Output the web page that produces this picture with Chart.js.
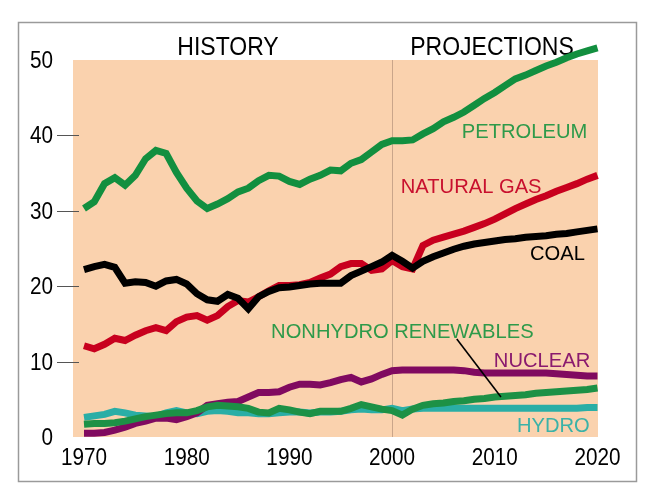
<!DOCTYPE html>
<html>
<head>
<meta charset="utf-8">
<script src="https://cdn.jsdelivr.net/npm/chart.js@4/dist/chart.umd.min.js"></script>
<style>
  html, body { margin: 0; padding: 0; background: #fff; }
  canvas { display: block; }
</style>
</head>
<body>
<canvas id="energy" width="646" height="501"></canvas>
<script>
// U.S. energy consumption by fuel, history and projections (quadrillion Btu)
const years = [
  1970, 1971, 1972, 1973, 1974, 1975, 1976, 1977, 1978, 1979,
  1980, 1981, 1982, 1983, 1984, 1985, 1986, 1987, 1988, 1989,
  1990, 1991, 1992, 1993, 1994, 1995, 1996, 1997, 1998, 1999,
  2000, 2001, 2002, 2003, 2004, 2005, 2006, 2007, 2008, 2009,
  2010, 2011, 2012, 2013, 2014, 2015, 2016, 2017, 2018, 2019, 2020
];

const petroleum = [
  30.3, 31.2, 33.6, 34.4, 33.4, 34.7, 36.9, 38.0, 37.6, 35.1,
  33.0, 31.3, 30.3, 30.9, 31.6, 32.5, 33.0, 34.0, 34.7, 34.6,
  33.9, 33.5, 34.2, 34.7, 35.4, 35.3, 36.3, 36.8, 37.8, 38.8,
  39.3, 39.3, 39.4, 40.2, 40.9, 41.8, 42.4, 43.1, 44.0, 44.9,
  45.7, 46.6, 47.5, 48.0, 48.6, 49.2, 49.7, 50.3, 50.8, 51.2, 51.6
];

const naturalGas = [
  12.1, 11.7, 12.3, 13.1, 12.8, 13.5, 14.1, 14.5, 14.1, 15.3,
  15.9, 16.1, 15.5, 16.1, 17.3, 18.1, 17.9, 18.6, 19.4, 20.1,
  20.1, 20.2, 20.5, 21.1, 21.6, 22.6, 23.0, 23.0, 22.1, 22.3,
  23.4, 22.6, 22.3, 25.4, 26.1, 26.5, 26.9, 27.3, 27.8, 28.3,
  28.9, 29.6, 30.3, 30.9, 31.5, 32.0, 32.6, 33.1, 33.6, 34.2, 34.7
];

const coal = [
  22.2, 22.6, 22.9, 22.5, 20.4, 20.6, 20.5, 20.0, 20.7, 20.9,
  20.3, 19.0, 18.2, 18.0, 18.9, 18.4, 17.0, 18.6, 19.3, 19.8,
  19.9, 20.1, 20.3, 20.4, 20.4, 20.4, 21.4, 22.0, 22.6, 23.2,
  24.1, 23.3, 22.4, 23.3, 23.9, 24.4, 24.9, 25.3, 25.6, 25.8,
  26.0, 26.2, 26.3, 26.5, 26.6, 26.7, 26.9, 27.0, 27.2, 27.4, 27.6
];

const nuclear = [
  0.5, 0.5, 0.6, 0.9, 1.3, 1.8, 2.1, 2.5, 2.5, 2.3,
  2.7, 3.2, 4.2, 4.4, 4.6, 4.7, 5.3, 5.9, 5.9, 6.0,
  6.6, 7.0, 7.0, 6.9, 7.2, 7.6, 7.9, 7.3, 7.7, 8.3,
  8.8, 8.9, 8.9, 8.9, 8.9, 8.9, 8.9, 8.8, 8.6, 8.5,
  8.5, 8.5, 8.5, 8.5, 8.5, 8.5, 8.4, 8.3, 8.2, 8.1, 8.1
];

const renewables = [
  1.7, 1.8, 1.8, 1.9, 2.1, 2.4, 2.7, 2.9, 3.1, 3.2,
  3.2, 3.5, 4.0, 4.2, 4.1, 4.0, 3.8, 3.3, 3.2, 3.8,
  3.6, 3.3, 3.1, 3.4, 3.4, 3.4, 3.8, 4.3, 4.0, 3.7,
  3.5, 2.9, 3.7, 4.2, 4.4, 4.5, 4.7, 4.8, 5.0, 5.1,
  5.3, 5.4, 5.5, 5.6, 5.8, 5.9, 6.0, 6.1, 6.2, 6.3, 6.5
];

const hydro = [
  2.6, 2.8, 3.0, 3.4, 3.2, 2.9, 2.8, 2.7, 3.2, 3.5,
  3.2, 3.1, 3.4, 3.5, 3.4, 3.2, 3.2, 3.1, 3.1, 3.2,
  3.3, 3.3, 3.2, 3.3, 3.3, 3.4, 3.6, 3.7, 3.6, 3.6,
  3.8, 3.5, 3.7, 3.8, 3.8, 3.8, 3.8, 3.8, 3.8, 3.8,
  3.8, 3.8, 3.8, 3.8, 3.8, 3.8, 3.8, 3.8, 3.8, 3.9, 3.9
];

const xTicks = [1970, 1980, 1990, 2000, 2010, 2020];
const yTicks = [0, 10, 20, 30, 40, 50];
const splitYear = 2000;

const FONT = "'Liberation Sans', Arial, sans-serif";

// series labels placed in data units (year, value)
const seriesLabels = [
  { text: 'PETROLEUM', x: 2012.9, y: 40.7, color: '#2e9a4a' },
  { text: 'NATURAL GAS', x: 2007.7, y: 33.3, color: '#c8102e' },
  { text: 'COAL', x: 2016.1, y: 24.5, color: '#000000' },
  { text: 'NONHYDRO RENEWABLES', x: 2001.0, y: 14.1, color: '#2e9a4a' },
  { text: 'NUCLEAR', x: 2014.6, y: 10.3, color: '#8a1a6e' },
  { text: 'HYDRO', x: 2015.7, y: 1.7, color: '#3bb2a8' }
];

const toPoints = vals => vals.map((v, i) => ({ x: years[i], y: v }));

const series = (label, vals, color) => ({
  label,
  data: toPoints(vals),
  borderColor: color,
  borderWidth: 7,
  pointRadius: 0,
  tension: 0,
  clip: false
});

// text is slightly condensed in the original artwork
function squeezed(ctx, text, x, y, size, sx) {
  ctx.save();
  ctx.font = size + 'px ' + FONT;
  ctx.translate(x, y);
  ctx.scale(sx, 1);
  ctx.fillText(text, 0, 0);
  ctx.restore();
}

const decor = {
  id: 'decor',
  beforeDraw(chart) {
    const { ctx, chartArea: a, scales: { x, y } } = chart;
    ctx.save();
    ctx.fillStyle = '#ffffff';
    ctx.fillRect(0, 0, chart.width, chart.height);
    // outer frame
    ctx.strokeStyle = '#9a9a9a';
    ctx.lineWidth = 1.5;
    ctx.strokeRect(18.5, 22.5, 618, 459);
    // shaded plot area
    ctx.fillStyle = '#fad2ae';
    ctx.fillRect(a.left, a.top, a.right - a.left, a.bottom - a.top);
    // history / projections divider
    const sx = Math.round(x.getPixelForValue(splitYear)) + 0.5;
    ctx.strokeStyle = '#c9a58a';
    ctx.lineWidth = 1;
    ctx.beginPath();
    ctx.moveTo(sx, a.top);
    ctx.lineTo(sx, a.bottom);
    ctx.stroke();
    // headings
    ctx.fillStyle = '#000';
    ctx.textAlign = 'center';
    ctx.textBaseline = 'alphabetic';
    squeezed(ctx, 'HISTORY', 228, 55, 25, 0.92);
    squeezed(ctx, 'PROJECTIONS', 492, 55, 25, 0.92);
    // tick labels
    xTicks.forEach(v => squeezed(ctx, String(v), x.getPixelForValue(v), 465, 23, 0.9));
    ctx.textAlign = 'right';
    yTicks.forEach(v => squeezed(ctx, String(v), 53, y.getPixelForValue(v) + 8, 23, 0.9));
    ctx.restore();
  },
  beforeDatasetsDraw(chart) {
    const { ctx, chartArea: a, scales: { y } } = chart;
    ctx.save();
    ctx.strokeStyle = '#555';
    ctx.lineWidth = 1;
    yTicks.slice(1, -1).forEach(v => {
      const py = Math.round(y.getPixelForValue(v)) + 0.5;
      ctx.beginPath();
      ctx.moveTo(a.left - 16, py);
      ctx.lineTo(a.left + 6, py);
      ctx.stroke();
    });
    ctx.restore();
  },
  afterDatasetsDraw(chart) {
    const { ctx, scales: { x, y } } = chart;
    ctx.save();
    ctx.textAlign = 'center';
    ctx.textBaseline = 'alphabetic';
    seriesLabels.forEach(l => {
      ctx.fillStyle = l.color;
      squeezed(ctx, l.text, x.getPixelForValue(l.x), y.getPixelForValue(l.y) + 7.5, 21, 0.96);
    });
    // pointer from renewables label to its line
    ctx.strokeStyle = '#000';
    ctx.lineWidth = 1.6;
    ctx.beginPath();
    ctx.moveTo(x.getPixelForValue(2006.3), y.getPixelForValue(13.0));
    ctx.lineTo(x.getPixelForValue(2010.6), y.getPixelForValue(5.3));
    ctx.stroke();
    ctx.restore();
  }
};

new Chart(document.getElementById('energy'), {
  type: 'line',
  data: {
    datasets: [
      series('Petroleum', petroleum, '#128f3f'),
      series('Coal', coal, '#000000'),
      series('Natural gas', naturalGas, '#c8001e'),
      series('Nonhydro renewables', renewables, '#1d9146'),
      series('Nuclear', nuclear, '#800a60'),
      series('Hydro', hydro, '#2aaea6')
    ]
  },
  options: {
    responsive: false,
    animation: false,
    layout: { padding: { left: 0, right: 48, top: 60, bottom: 0 } },
    plugins: {
      legend: { display: false },
      tooltip: { enabled: false }
    },
    scales: {
      x: {
        type: 'linear',
        min: 1968.93,
        max: 2020.05,
        grid: { display: false },
        border: { display: false },
        ticks: { display: false },
        afterBuildTicks: s => { s.ticks = xTicks.map(v => ({ value: v })); },
        afterFit: s => { s.height = 64; }
      },
      y: {
        min: 0,
        max: 50,
        grid: { display: false },
        border: { display: false },
        ticks: { display: false },
        afterBuildTicks: s => { s.ticks = yTicks.map(v => ({ value: v })); },
        afterFit: s => { s.width = 73; }
      }
    }
  },
  plugins: [decor]
});
</script>
</body>
</html>
